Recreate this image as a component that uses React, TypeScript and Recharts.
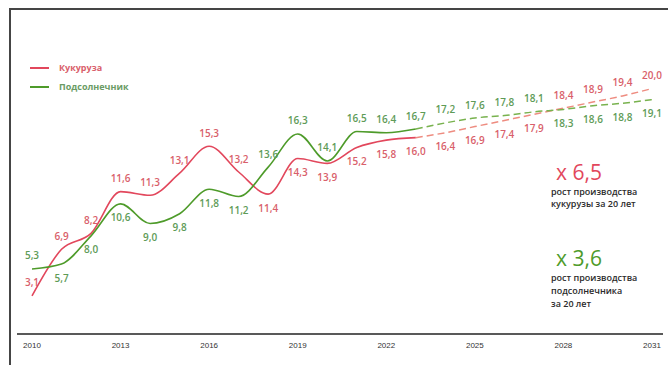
import { LineChart, Line, XAxis, YAxis, LabelList } from 'recharts';

// годы и значения (млн т)
const YEARS = [2010, 2011, 2012, 2013, 2014, 2015, 2016, 2017, 2018, 2019, 2020, 2021, 2022, 2023, 2024, 2025, 2026, 2027, 2028, 2029, 2030, 2031];
const CORN = [3.1, 6.9, 8.2, 11.6, 11.3, 13.1, 15.3, 13.2, 11.4, 14.3, 13.9, 15.2, 15.8, 16.0, 16.4, 16.9, 17.4, 17.9, 18.4, 18.9, 19.4, 20.0];
const SUNFLOWER = [5.3, 5.7, 8.0, 10.6, 9.0, 9.8, 11.8, 11.2, 13.6, 16.3, 14.1, 16.5, 16.4, 16.7, 17.2, 17.6, 17.8, 18.1, 18.3, 18.6, 18.8, 19.1];
const FORECAST_FROM = 2023;
const X_TICKS = [2010, 2013, 2016, 2019, 2022, 2025, 2028, 2031];

const SERIES_NAMES = ['Кукуруза', 'Подсолнечник'];
const CORN_COLOR = '#e2475c';
const CORN_DASH = '#ee8c80';
const CORN_TEXT = '#d95f6b';
const SUN_COLOR = '#4e9b2a';
const SUN_DASH = '#78b24e';
const SUN_TEXT = '#5e9b57';

const data = YEARS.map((year, i) => ({
  year,
  cornFact: year <= FORECAST_FROM ? CORN[i] : null,
  cornPlan: year >= FORECAST_FROM ? CORN[i] : null,
  sunFact: year <= FORECAST_FROM ? SUNFLOWER[i] : null,
  sunPlan: year >= FORECAST_FROM ? SUNFLOWER[i] : null,
}));

const fmt = (v: number) => v.toFixed(1).replace('.', ',');

// подпись над точкой, если ряд выше другого, иначе под ней
function makeLabel(own: number[], other: number[], color: string, forecast: boolean) {
  return (props: any) => {
    const { x, y, index, value } = props;
    if (value == null) return null;
    if (forecast && YEARS[index] <= FORECAST_FROM) return null;
    const above = index === 0 || own[index] >= other[index];
    return (
      <text
        key={`l-${index}`}
        x={x}
        y={above ? y - 9.5 : y + 17.5}
        textAnchor="middle"
        fill={color}
        fontSize={10}
        fontWeight={600}
        fontFamily="'Open Sans', sans-serif"
      >
        {fmt(own[index])}
      </text>
    );
  };
}

const bigText: React.CSSProperties = {
  position: 'absolute',
  left: 556,
  fontFamily: "'Open Sans', sans-serif",
  fontSize: 21,
  lineHeight: '16px',
  whiteSpace: 'nowrap',
};

const noteText: React.CSSProperties = {
  position: 'absolute',
  left: 551,
  fontFamily: "'Open Sans', sans-serif",
  fontSize: 9,
  fontWeight: 600,
  color: '#2b2b2b',
  whiteSpace: 'nowrap',
};

export default function App() {
  return (
    <div style={{ position: 'absolute', left: 0, top: 0, width: 668, height: 365, background: '#fff', overflow: 'hidden' }}>
      <div style={{ position: 'absolute', left: 9, top: 8, width: 670, height: 370, borderTop: '2px solid #454545', borderLeft: '2px solid #454545' }} />
      <LineChart width={668} height={365} data={data} margin={{ top: 64, right: 5, bottom: 1, left: 17 }}>
        <XAxis
          dataKey="year"
          type="number"
          domain={[2010, 2031]}
          ticks={X_TICKS}
          padding={{ left: 15, right: 11 }}
          tickLine={false}
          axisLine={{ stroke: '#222', strokeWidth: 1.5 }}
          tick={{ fill: '#333', fontSize: 8, fontFamily: "'Liberation Sans', Arial, sans-serif" }}
        />
        <YAxis hide domain={[0, 22]} />
        <Line type="monotone" dataKey="cornFact" stroke={CORN_COLOR} strokeWidth={1.6} dot={false} isAnimationActive={false}>
          <LabelList dataKey="cornFact" content={makeLabel(CORN, SUNFLOWER, CORN_TEXT, false)} />
        </Line>
        <Line type="monotone" dataKey="cornPlan" stroke={CORN_DASH} strokeWidth={1.5} strokeDasharray="7 4" dot={false} isAnimationActive={false}>
          <LabelList dataKey="cornPlan" content={makeLabel(CORN, SUNFLOWER, CORN_TEXT, true)} />
        </Line>
        <Line type="monotone" dataKey="sunFact" stroke={SUN_COLOR} strokeWidth={1.6} dot={false} isAnimationActive={false}>
          <LabelList dataKey="sunFact" content={makeLabel(SUNFLOWER, CORN, SUN_TEXT, false)} />
        </Line>
        <Line type="monotone" dataKey="sunPlan" stroke={SUN_DASH} strokeWidth={1.5} strokeDasharray="7 4" dot={false} isAnimationActive={false}>
          <LabelList dataKey="sunPlan" content={makeLabel(SUNFLOWER, CORN, SUN_TEXT, true)} />
        </Line>
      </LineChart>

      {/* легенда */}
      <div style={{ position: 'absolute', left: 30, top: 58, fontFamily: "'Open Sans', sans-serif", fontSize: 9, fontWeight: 700 }}>
        {SERIES_NAMES.map((name, i) => (
          <div key={name} style={{ display: 'flex', alignItems: 'center', height: 19 }}>
            <span style={{ display: 'inline-block', width: 19, height: 2, background: i === 0 ? CORN_COLOR : SUN_COLOR, marginRight: 10 }} />
            <span style={{ color: i === 0 ? CORN_TEXT : '#6a9b64' }}>{name}</span>
          </div>
        ))}
      </div>

      <div style={{ ...bigText, top: 164, color: CORN_COLOR }}>x 6,5</div>
      <div style={{ ...noteText, top: 186, lineHeight: '12px' }}>
        рост производства<br />кукурузы за 20 лет
      </div>
      <div style={{ ...bigText, top: 250, color: SUN_COLOR }}>x 3,6</div>
      <div style={{ ...noteText, top: 271, lineHeight: '13px' }}>
        рост производства<br />подсолнечника<br />за 20 лет
      </div>
    </div>
  );
}
